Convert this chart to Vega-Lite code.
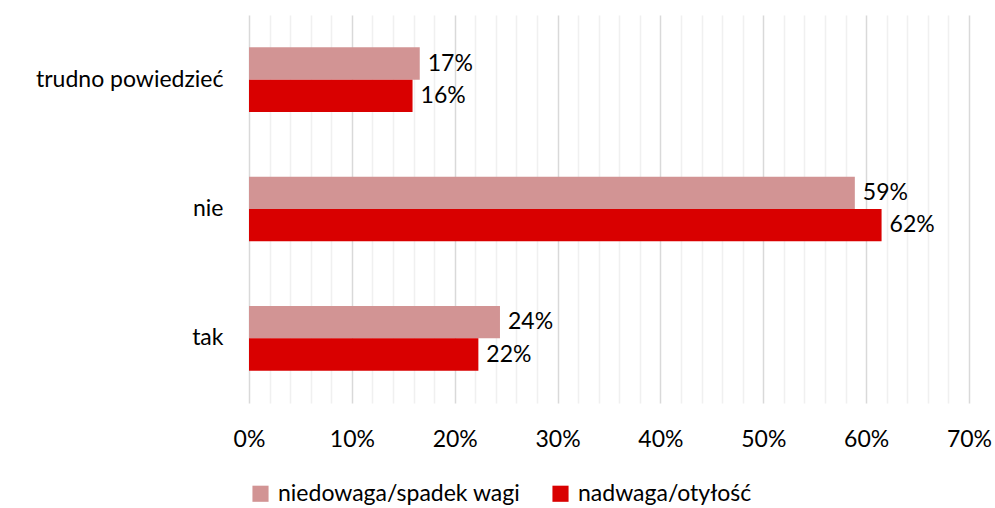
{
  "$schema": "https://vega.github.io/schema/vega-lite/v6.json",
  "autosize": {"type": "none"},
  "width": 720,
  "height": 388,
  "padding": {"left": 249, "top": 15, "right": 26, "bottom": 105},
  "background": "white",
  "config": {
    "font": "Lato",
    "view": {"stroke": null},
    "axis": {"labelFont": "Lato", "labelColor": "#000000", "labelFontSize": 23, "ticks": false, "domain": false, "labelLimit": 300}
  },
  "data": {
    "values": [
      {"kategoria": "trudno powiedzieć", "seria": "niedowaga/spadek wagi", "wartosc": 0.166, "etykieta": "17%"},
      {"kategoria": "trudno powiedzieć", "seria": "nadwaga/otyłość", "wartosc": 0.159, "etykieta": "16%"},
      {"kategoria": "nie", "seria": "niedowaga/spadek wagi", "wartosc": 0.589, "etykieta": "59%"},
      {"kategoria": "nie", "seria": "nadwaga/otyłość", "wartosc": 0.615, "etykieta": "62%"},
      {"kategoria": "tak", "seria": "niedowaga/spadek wagi", "wartosc": 0.244, "etykieta": "24%"},
      {"kategoria": "tak", "seria": "nadwaga/otyłość", "wartosc": 0.223, "etykieta": "22%"}
    ]
  },
  "encoding": {
    "y": {
      "field": "kategoria", "type": "nominal",
      "sort": ["trudno powiedzieć", "nie", "tak"],
      "scale": {"paddingInner": 0.5, "paddingOuter": 0.25},
      "axis": {"title": null, "labelPadding": 26, "grid": false, "labelLimit": 300}
    },
    "yOffset": {
      "field": "seria", "type": "nominal",
      "sort": ["niedowaga/spadek wagi", "nadwaga/otyłość"]
    },
    "x": {
      "field": "wartosc", "type": "quantitative",
      "scale": {"domain": [0, 0.7], "nice": false},
      "axis": {
        "title": null,
        "values": [0,0.02,0.04,0.06,0.08,0.1,0.12,0.14,0.16,0.18,0.2,0.22,0.24,0.26,0.28,0.3,0.32,0.34,0.36,0.38,0.4,0.42,0.44,0.46,0.48,0.5,0.52,0.54,0.56,0.58,0.6,0.62,0.64,0.66,0.68,0.7],
        "labelExpr": "round(datum.value*100) % 10 == 0 ? format(datum.value, '.0%') : ''",
        "grid": true,
        "gridColor": {"condition": {"test": "round(datum.value*100) % 10 == 0", "value": "#D9D9D9"}, "value": "#F0F0F0"},
        "gridWidth": 1.5,
        "labelPadding": 25,
        "labelFlush": false
      }
    }
  },
  "layer": [
    {
      "mark": {"type": "bar"},
      "encoding": {
        "color": {
          "field": "seria", "type": "nominal",
          "sort": ["niedowaga/spadek wagi", "nadwaga/otyłość"],
          "scale": {"domain": ["niedowaga/spadek wagi", "nadwaga/otyłość"], "range": ["#D29494", "#D90000"]},
          "legend": {
            "title": null, "orient": "bottom", "direction": "horizontal",
            "symbolType": "square", "symbolSize": 260, "symbolStrokeWidth": 0,
            "labelFontSize": 23, "labelFont": "Lato", "labelColor": "#000000",
            "columnPadding": 28, "offset": 31, "labelLimit": 400, "labelOffset": 6
          }
        }
      }
    },
    {
      "mark": {"type": "text", "align": "left", "baseline": "middle", "dx": 8, "fontSize": 23, "color": "#000000"},
      "encoding": {"text": {"field": "etykieta"}}
    }
  ]
}
